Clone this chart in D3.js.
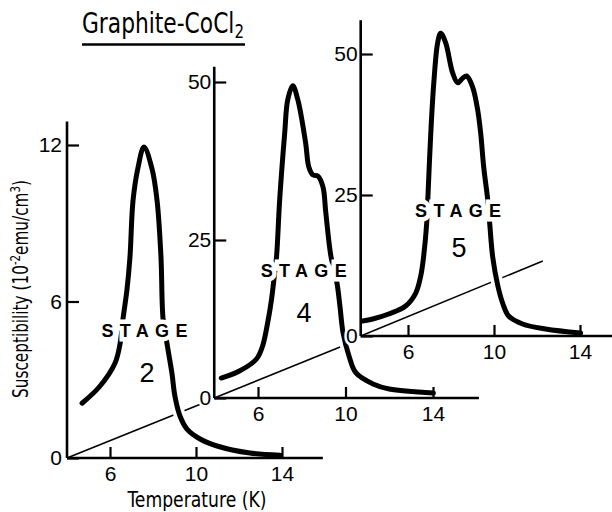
<!DOCTYPE html>
<html>
<head>
<meta charset="utf-8">
<script src="https://cdn.jsdelivr.net/npm/d3@7"></script>
<style>
  body { margin: 0; background: #fff; }
  svg { display: block; }
</style>
</head>
<body>
<div id="chart"></div>
<script>
// values (temperature in K, susceptibility in 10^-2 emu/cm3)
var stage2T   = [4.70, 5.53, 6.23, 6.47, 6.60, 6.79, 6.93, 7.07, 7.30, 7.58, 7.95, 8.19, 8.37, 8.47, 8.65, 8.88, 9.02, 9.26, 9.58, 10.19, 10.98, 12.51, 13.91];
var stage2Chi = [2.10, 2.75, 3.63, 4.39, 5.31, 6.46, 7.72, 9.86, 11.12, 11.92, 11.1, 9.86, 7.72, 5.31, 4.39, 3.25, 2.37, 1.60, 1.11, 0.73, 0.46, 0.19, 0.11];

var stage4T   = [4.32, 5.15, 5.93, 6.21, 6.44, 6.62, 6.76, 6.85, 6.99, 7.22, 7.36, 7.59, 7.82, 8.18, 8.32, 8.51, 8.74, 8.97, 9.10, 9.33, 9.61, 9.75, 9.89, 10.16, 10.48, 11.26, 12.0, 14.02];
var stage4Chi = [3.16, 4.27, 6.17, 8.23, 11.87, 15.66, 19.78, 22.47, 31.3, 41.9, 47.2, 49.4, 47.2, 40.3, 36.6, 35.3, 35.1, 33.4, 29.3, 22.5, 18.2, 14.4, 10.3, 6.65, 3.96, 2.22, 1.42, 0.79];

var stage5T   = [3.89, 4.36, 5.10, 5.89, 6.36, 6.59, 6.73, 6.87, 6.92, 7.06, 7.20, 7.38, 7.52, 7.75, 8.08, 8.31, 8.54, 8.73, 9.01, 9.24, 9.38, 9.52, 9.71, 9.80, 9.94, 10.17, 10.40, 10.68, 11.33, 12.40, 14.03];
var stage5Chi = [2.66, 3.01, 3.90, 5.32, 7.62, 10.6, 14.2, 20.0, 24.1, 36.0, 44.9, 52.0, 53.7, 52.0, 46.6, 44.9, 45.7, 46.1, 44.1, 40.1, 36.0, 30.0, 24.1, 20.0, 14.0, 9.04, 5.85, 3.55, 2.13, 1.24, 0.53];

// straight background lines, one piece per panel
var line2T = [4, 10.2],  line2Chi = [0, 2.06];
var line4T = [4, 9.98],  line4Chi = [0, 8.4];
var line5T = [3.8, 12.27], line5Chi = [0, 13.3];

var stageNames = ["2", "4", "5"];
var xTicks = [6, 10, 14];
var yTicks2 = [0, 6, 12];
var yTicks4 = [0, 25, 50];
var yTicks5 = [0, 25, 50];

var width = 612, height = 512;

var svg = d3.select("#chart").append("svg")
  .attr("width", width)
  .attr("height", height)
  .style("background", "#fff");

var numFont = "'Liberation Sans', Arial, sans-serif";
var narrowFont = "'Liberation Sans Narrow', 'DejaVu Sans Condensed', 'Liberation Sans', sans-serif";

// panel layout: scales are pinned on two tick positions each
var panels = [
  {name: stageNames[0], T: stage2T, chi: stage2Chi, lT: line2T, lChi: line2Chi, yTicks: yTicks2,
   xd: [6, 14], xr: [110, 282], yd: [0, 12], yr: [458, 145], tStart: 4, tEnd: 15.9, chiTop: 12.9,
   lab: {t: 7.6, chi: 4.62, numT: 7.72, numChi: 2.9}, yPad: 5},
  {name: stageNames[1], T: stage4T, chi: stage4Chi, lT: line4T, lChi: line4Chi, yTicks: yTicks4,
   xd: [6, 14], xr: [258, 433], yd: [0, 50], yr: [398, 82], tStart: 4, tEnd: 16.1, chiTop: 52.4,
   lab: {t: 8.09, chi: 19.1, numT: 8.1, numChi: 12.0}, yPad: 3},
  {name: stageNames[2], T: stage5T, chi: stage5Chi, lT: line5T, lChi: line5Chi, yTicks: yTicks5,
   xd: [6, 14], xr: [408, 580], yd: [0, 50], yr: [336, 54], tStart: 3.8, tEnd: 16.5, chiTop: 56,
   lab: {t: 8.33, chi: 21.1, numT: 8.37, numChi: 14.0}, yPad: 3}
];

panels.forEach(function(p) {
  var x = d3.scaleLinear().domain(p.xd).range(p.xr);
  var y = d3.scaleLinear().domain(p.yd).range(p.yr);
  var g = svg.append("g");

  var pts = p.T.map(function(t, i) { return [t, p.chi[i]]; });
  var lpts = p.lT.map(function(t, i) { return [t, p.lChi[i]]; });

  var line = d3.line()
    .x(function(d) { return x(d[0]); })
    .y(function(d) { return y(d[1]); })
    .curve(d3.curveCatmullRom.alpha(0.5));

  // thin straight line
  g.append("path")
    .attr("d", d3.line().x(function(d) { return x(d[0]); }).y(function(d) { return y(d[1]); })(lpts))
    .attr("fill", "none")
    .attr("stroke", "#000")
    .attr("stroke-width", 1.6);

  // curve, white halo first so it breaks the thin line
  g.append("path")
    .attr("d", line(pts))
    .attr("fill", "none")
    .attr("stroke", "#fff")
    .attr("stroke-width", 12)
    .attr("stroke-linecap", "round");
  g.append("path")
    .attr("d", line(pts))
    .attr("fill", "none")
    .attr("stroke", "#000")
    .attr("stroke-width", 5)
    .attr("stroke-linecap", "round")
    .attr("stroke-linejoin", "round");

  // axes
  var xAxis = g.append("g")
    .attr("transform", "translate(0," + y(0) + ")")
    .call(d3.axisBottom(x).tickValues(xTicks).tickSize(-11).tickPadding(8).tickFormat(d3.format("d")));
  var yAxis = g.append("g")
    .attr("transform", "translate(" + x(p.tStart) + ",0)")
    .call(d3.axisLeft(y).tickValues(p.yTicks).tickSize(-12).tickPadding(p.yPad).tickFormat(d3.format("d")));
  [xAxis, yAxis].forEach(function(a) {
    a.select(".domain").remove();
    a.selectAll(".tick line").attr("stroke", "#000").attr("stroke-width", 2.2);
    a.selectAll(".tick text")
      .attr("fill", "#000")
      .style("font-family", numFont)
      .style("font-size", "21px")
      .attr("stroke", "#fff")
      .attr("stroke-width", 5)
      .attr("paint-order", "stroke");
  });
  g.append("line")
    .attr("x1", x(p.tStart)).attr("x2", x(p.tEnd))
    .attr("y1", y(0)).attr("y2", y(0))
    .attr("stroke", "#000").attr("stroke-width", 2.6);
  g.append("line")
    .attr("x1", x(p.tStart)).attr("x2", x(p.tStart))
    .attr("y1", y(0)).attr("y2", y(p.chiTop))
    .attr("stroke", "#000").attr("stroke-width", 2.6);

  // STAGE label
  g.append("text")
    .attr("x", x(p.lab.t))
    .attr("y", y(p.lab.chi))
    .attr("text-anchor", "middle")
    .attr("textLength", 86)
    .attr("lengthAdjust", "spacing")
    .style("font-family", numFont)
    .style("font-weight", "bold")
    .style("font-size", "18px")
    .attr("stroke", "#fff")
    .attr("stroke-width", 9)
    .attr("paint-order", "stroke")
    .text("STAGE");
  g.append("text")
    .attr("x", x(p.lab.numT))
    .attr("y", y(p.lab.numChi))
    .attr("text-anchor", "middle")
    .style("font-family", numFont)
    .style("font-size", "27px")
    .text(p.name);
});

// squeeze a text horizontally to a given width
function fit(sel, w, before) {
  var len = sel.node().getComputedTextLength();
  sel.attr("transform", before + " scale(" + (w / len) + ",1)");
}

// title
var title = svg.append("text")
  .style("font-family", narrowFont)
  .style("font-size", "29px");
title.append("tspan").text("Graphite-CoCl");
title.append("tspan").attr("dy", 5).style("font-size", "20px").text("2");
fit(title, 162, "translate(82,33)");
svg.append("line")
  .attr("x1", 82).attr("x2", 245)
  .attr("y1", 44.5).attr("y2", 44.5)
  .attr("stroke", "#000").attr("stroke-width", 2.5);

// axis titles
var yl = svg.append("text")
  .attr("text-anchor", "middle")
  .style("font-family", narrowFont)
  .style("font-size", "21px");
yl.append("tspan").text("Susceptibility (10");
yl.append("tspan").attr("dy", -8).style("font-size", "14px").text("-2");
yl.append("tspan").attr("dy", 8).text("emu/cm");
yl.append("tspan").attr("dy", -8).style("font-size", "14px").text("3");
yl.append("tspan").attr("dy", 8).text(")");
fit(yl, 218, "translate(28,289) rotate(-90)");

var xl = svg.append("text")
  .attr("text-anchor", "middle")
  .style("font-family", narrowFont)
  .style("font-size", "21px")
  .text("Temperature (K)");
fit(xl, 139, "translate(197,507)");
</script>
</body>
</html>
